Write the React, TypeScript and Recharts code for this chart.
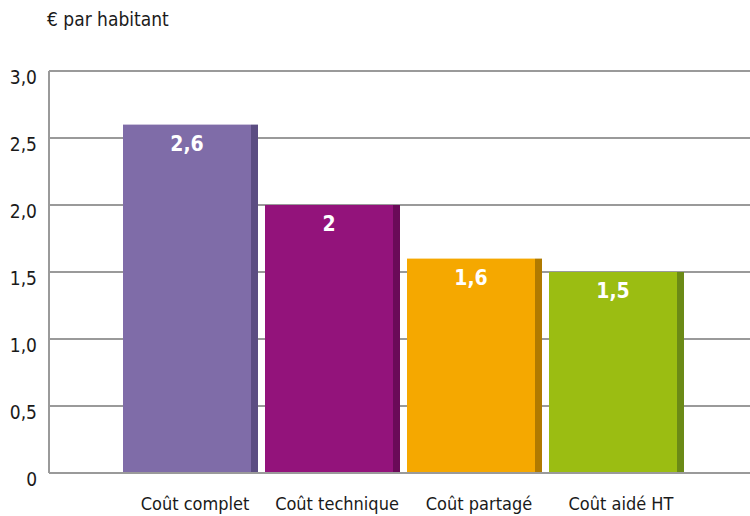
import React from 'react';
import { BarChart, Bar, XAxis, YAxis, CartesianGrid, LabelList } from 'recharts';

const categories = ['Coût complet', 'Coût technique', 'Coût partagé', 'Coût aidé HT'];
const values = [2.6, 2, 1.6, 1.5];
const faceColors = ['#7f6ca8', '#93137b', '#f5a800', '#9bbd12'];
const sideColors = ['#5b4d82', '#6a0a58', '#b07a00', '#6b8a16'];
const yTicks = [0, 0.5, 1, 1.5, 2, 2.5, 3];

const FONT = '"Liberation Sans Narrow", "DejaVu Sans Condensed", Arial, sans-serif';
const SIDE = 7;

const data = categories.map((name, i) => ({ name, value: values[i], idx: i }));

const fmtTick = (v: number) => (v === 0 ? '0' : v.toFixed(1).replace('.', ','));
const fmtLabel = (v: number) => String(v).replace('.', ',');

const Bar3D = (props: any) => {
  const { x, y, width, height, payload } = props;
  const i = payload.idx;
  return (
    <g>
      <rect x={x} y={y} width={width - SIDE} height={height} fill={faceColors[i]} />
      <rect x={x + width - SIDE} y={y} width={SIDE} height={height} fill={sideColors[i]} />
    </g>
  );
};

const BarLabel = (props: any) => {
  const { x, y, width, value } = props;
  return (
    <text
      x={x + (width - SIDE) / 2}
      y={y + 26}
      textAnchor="middle"
      fill="#fff"
      fontFamily={FONT}
      fontWeight="bold"
      fontSize={21}
    >
      {fmtLabel(value)}
    </text>
  );
};

const YTick = (props: any) => {
  const { x, y, payload } = props;
  return (
    <text x={x} y={y + 13} textAnchor="end" fill="#1a1a1a" fontFamily={FONT} fontSize={19}>
      {fmtTick(payload.value)}
    </text>
  );
};

const XTick = (props: any) => {
  const { x, y, payload } = props;
  return (
    <text x={x + 5} y={y + 35} textAnchor="middle" fill="#1a1a1a" fontFamily={FONT} fontSize={18}>
      {payload.value}
    </text>
  );
};

export default function App() {
  return (
    <div style={{ position: 'absolute', left: 0, top: 0, width: 750, height: 516, background: '#fff' }}>
      <div
        style={{
          position: 'absolute',
          left: 47,
          top: 8,
          fontFamily: FONT,
          fontSize: 19,
          color: '#1a1a1a',
        }}
      >
        € par habitant
      </div>
      <BarChart
        width={750}
        height={516}
        data={data}
        margin={{ top: 71, right: 0, bottom: 0, left: 0 }}
      >
        <CartesianGrid vertical={false} stroke="#9a9a9a" strokeWidth={2} />
        <XAxis
          dataKey="name"
          height={43}
          padding={{ left: 70, right: 63 }}
          axisLine={{ stroke: '#9a9a9a', strokeWidth: 2 }}
          tickLine={false}
          tickSize={0}
          tick={<XTick />}
          interval={0}
        />
        <YAxis
          width={49}
          domain={[0, 3]}
          ticks={yTicks}
          interval={0}
          axisLine={{ stroke: '#9a9a9a', strokeWidth: 2 }}
          tickLine={false}
          tickSize={0}
          tickMargin={12}
          tick={<YTick />}
        />
        <Bar dataKey="value" barSize={135} shape={<Bar3D />} isAnimationActive={false}>
          <LabelList dataKey="value" content={<BarLabel />} />
        </Bar>
      </BarChart>
    </div>
  );
}
